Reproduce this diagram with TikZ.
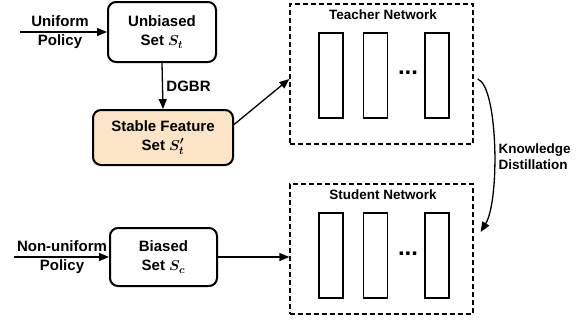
\documentclass[tikz,border=0pt]{standalone}
\usepackage{fontspec}
\setmainfont{Liberation Sans}
\usetikzlibrary{positioning, arrows.meta}
\definecolor{featfill}{RGB}{252,228,198}

\begin{document}
\begin{tikzpicture}[
  x=1pt, y=1pt,
  every node/.style = {align=center, font=\bfseries\boldmath\fontsize{15}{19}\selectfont},
  box/.style = {draw, rounded corners=8pt, line width=2pt, inner sep=2pt},
  netbox/.style = {draw, dash pattern=on 5pt off 3pt, line width=1.3pt, minimum width=183pt},
  layer/.style = {draw, line width=1.9pt, minimum width=24pt, minimum height=85pt, inner sep=0pt},
  title/.style = {font=\bfseries\fontsize{13.5}{16}\selectfont},
  arrow/.style = {-{Triangle[length=10pt,width=8pt]}, line width=1.3pt}
]
\useasboundingbox (0,0) rectangle (587,-325);

% --- data sets
\node[box, minimum width=108pt, minimum height=60pt] (unb) at (162,-32) {Unbiased \\ Set $S_t$};
\node[box, fill=featfill, minimum width=140pt, minimum height=55pt] (stab) at (163,-137.5) {Stable Feature \\ Set $S_t'$};
\node[box, minimum width=107pt, minimum height=58pt] (bia) at (163.5,-257) {Biased \\ Set $S_c$};

% --- policies
\node (uni) at (60,-32) {Uniform \\ Policy};
\node (non) at (62,-257) {Non-uniform \\ Policy};
\coordinate (unistart) at (20,-32);
\coordinate (nonstart) at (14,-257);

% --- networks
\node[netbox, minimum height=140pt] (teach) at (381.5,-74) {};
\node[title] (teachtitle) at (383,-15) {Teacher Network};
\foreach \lx [count=\i] in {331,375.5,437}
  \node[layer] (tl\i) at (\lx,-75.5) {};
\node[font=\bfseries\fontsize{24}{24}\selectfont] (tdots) at (408,-73) {...};

\node[netbox, minimum height=130pt] (stud) at (381.5,-249) {};
\node[title] (studtitle) at (383,-195) {Student Network};
\foreach \lx [count=\i] in {331,375.5,437}
  \node[layer] (sl\i) at (\lx,-255.5) {};
\node[font=\bfseries\fontsize{24}{24}\selectfont] (sdots) at (408,-254) {...};

\node[anchor=west, align=left, title] (kd) at (495,-157) {Knowledge \\ Distillation};

% --- connectors
\draw[arrow] (unistart) -- (unb.west);
\draw[arrow] (nonstart) -- (bia.west);
\draw[arrow] (unb.south) -- node[right, pos=0.5] {DGBR} (stab.north);
\draw[arrow] ([yshift=13pt]stab.east) -- ([yshift=-5pt]teach.west);
\draw[arrow] (bia.east) -- (bia.east -| stud.west);
\draw[arrow] ([xshift=4pt,yshift=-5pt]teach.east) .. controls (498,-86) and (500,-200) .. ([xshift=7pt,yshift=17pt]stud.east);

\end{tikzpicture}
\end{document}
